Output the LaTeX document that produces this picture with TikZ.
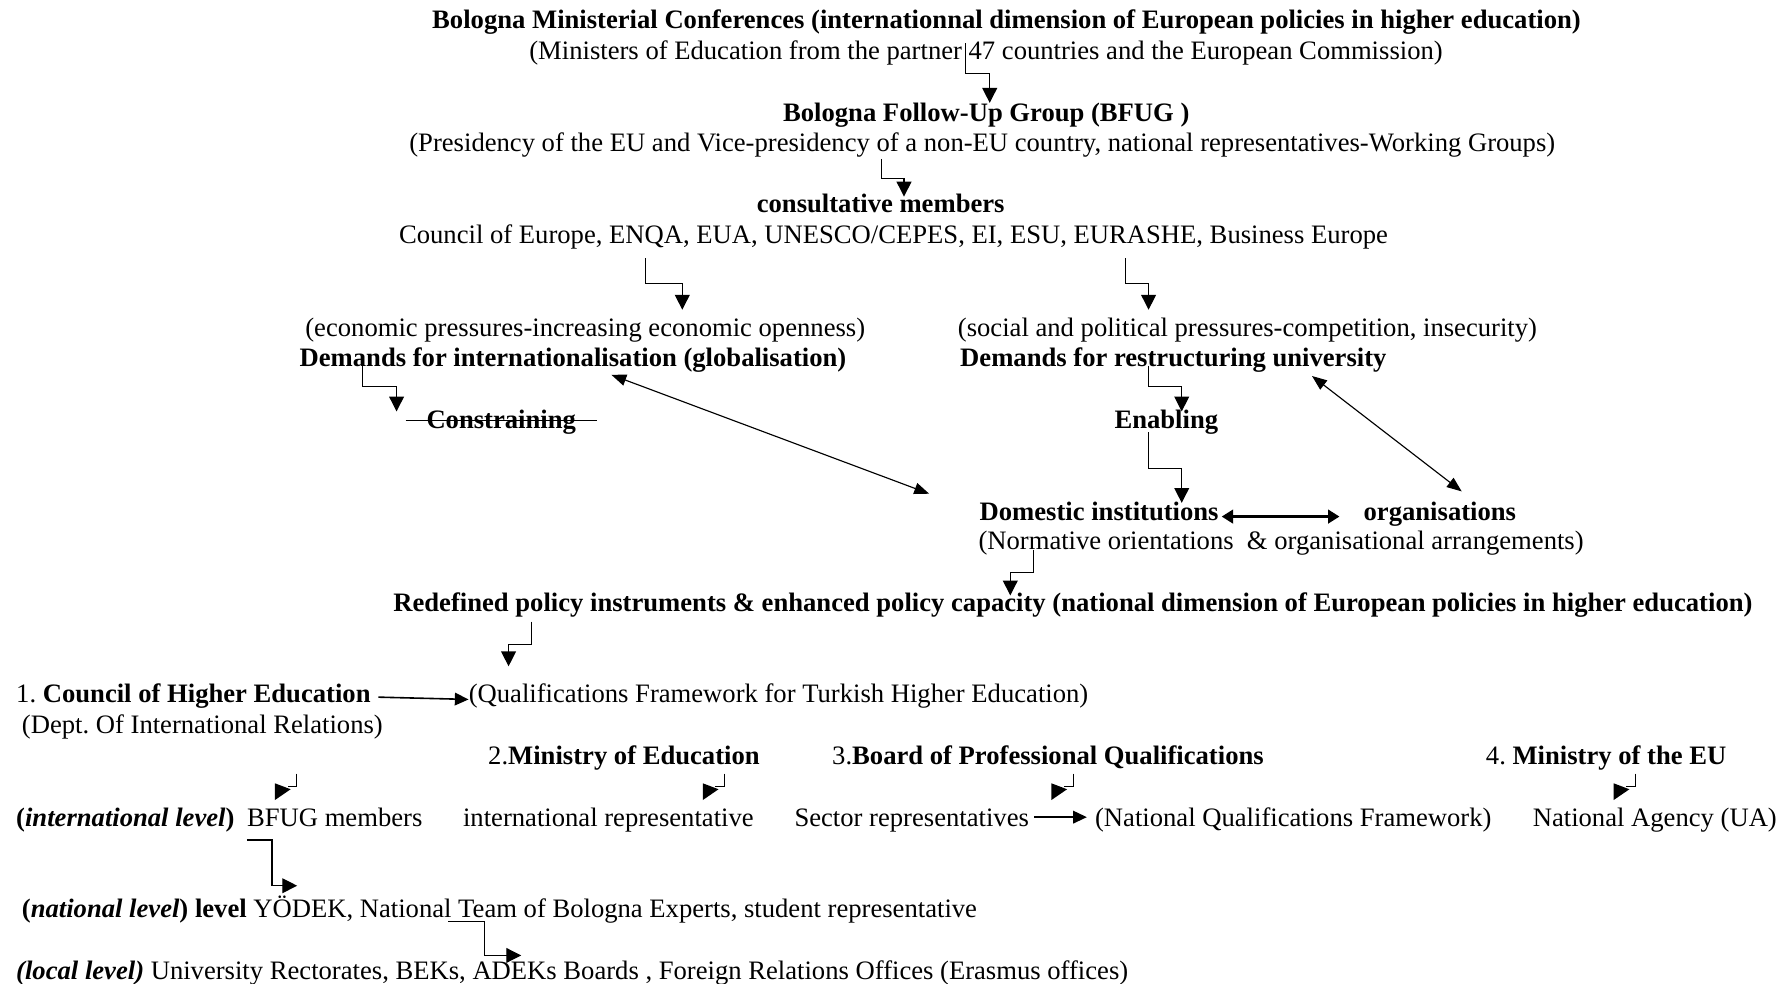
\documentclass[tikz,border=0pt]{standalone}
\usepackage{fontspec}
\setmainfont{Liberation Serif}
\usetikzlibrary{arrows.meta}
\frenchspacing
\begin{document}
\begin{tikzpicture}[x=1pt,y=-1pt,
  txt/.style={anchor=base west, inner sep=0pt, font=\fontsize{23.3}{28}\selectfont},
  bt/.style={txt, font=\fontsize{23.3}{28}\selectfont\bfseries},
  bentarrow/.style={line width=1pt, -{Triangle[length=13pt,width=13pt]}},
  straightarrow/.style={line width=1.4pt, -{Triangle[length=12pt,width=11pt]}},
  dblarrow/.style={line width=1pt, {Triangle[length=13pt,width=10pt]}-{Triangle[length=13pt,width=10pt]}},
  thickdbl/.style={line width=2pt, {Triangle[length=10pt,width=12pt]}-{Triangle[length=10pt,width=12pt]}},
  smallline/.style={line width=1pt},
]
\useasboundingbox (0,0) rectangle (1568,861);

% ---------- texts ----------
\node[bt]  (t1)  at (378,25)  {Bologna Ministerial Conferences (internationnal dimension of European policies in higher education)};
\node[txt] (t2)  at (463,52)  {(Ministers of Education from the partner 47 countries and the European Commission)};
\node[bt]  (t3)  at (685,106) {Bologna Follow-Up Group (BFUG )};
\node[txt] (t4)  at (358,133) {(Presidency of the EU and Vice-presidency of a non-EU country, national representatives-Working Groups)};
\node[bt]  (t5)  at (662,186) {consultative members};
\node[txt] (t6)  at (349,213) {Council of Europe, ENQA, EUA, UNESCO/CEPES, EI, ESU, EURASHE, Business Europe};
\node[txt] (t7)  at (267,294) {(economic pressures-increasing economic openness)};
\node[bt]  (t8)  at (262,321) {Demands for internationalisation (globalisation)};
\node[txt] (t9)  at (838,294) {(social and political pressures-competition, insecurity)};
\node[bt]  (t10) at (840,321) {Demands for restructuring university};
\node[bt]  (t11) at (373,375) {Constraining};
\node[bt]  (t12) at (975,375) {Enabling};
\node[bt]  (t13) at (857,455) {Domestic institutions};
\node[bt]  (t14) at (1193,455) {organisations};
\node[txt] (t15) at (856,481) {(Normative orientations~ \& organisational arrangements)};
\node[bt]  (t16) at (344,535) {Redefined policy instruments \& enhanced policy capacity (national dimension of European policies in higher education)};
\node[txt] (t17) at (14,615)  {1. \textbf{Council of Higher Education}};
\node[txt] (t18) at (410,615) {(Qualifications Framework for Turkish Higher Education)};
\node[txt] (t19) at (19,642)  {(Dept. Of International Relations)};
\node[txt] (t20) at (427,669) {2.\textbf{Ministry of Education}};
\node[txt] (t21) at (728,669) {3.\textbf{Board of Professional Qualifications}};
\node[txt] (t22) at (1300,669) {4. \textbf{Ministry of the EU}};
\node[txt] (t23) at (14,723)  {\textbf{(\textit{international level})}};
\node[txt] (t23b) at (216,723) {BFUG members};
\node[txt] (t24) at (405,723) {international representative};
\node[txt] (t25) at (695,723) {Sector representatives};
\node[txt] (t26) at (958,723) {(National Qualifications Framework)};
\node[txt] (t27) at (1341,723) {National Agency (UA)};
\node[txt] (t28) at (19,803)  {\textbf{(\textit{national level}) level} YÖDEK, National Team of Bologna Experts, student representative};
\node[txt] (t29) at (14,857)  {\textbf{\textit{(local level)}} University Rectorates, BEKs, ADEKs Boards , Foreign Relations Offices (Erasmus offices)};

% strike-through of "Constraining"
\coordinate (s1) at (355,368);
\coordinate (s2) at (522,368);
\draw[line width=1pt] (s1) -- (s2);

% ---------- bent arrows (down, right/left, down) ----------
\coordinate (a1s) at (845,38);   \coordinate (a1e) at (866,90);
\draw[bentarrow] (a1s) -- (845,64) -| (a1e);
\coordinate (a2s) at (771,139);  \coordinate (a2e) at (791,172);
\draw[bentarrow] (a2s) -- (771,156) -| (a2e);
\coordinate (a3s) at (565,226);  \coordinate (a3e) at (597,271);
\draw[bentarrow] (a3s) -- (565,248) -| (a3e);
\coordinate (a4s) at (985,226);  \coordinate (a4e) at (1005,271);
\draw[bentarrow] (a4s) -- (985,248) -| (a4e);
\coordinate (a5s) at (317,320);  \coordinate (a5e) at (347,360);
\draw[bentarrow] (a5s) -- (317,338) -| (a5e);
\coordinate (a6s) at (1005,320); \coordinate (a6e) at (1034,360);
\draw[bentarrow] (a6s) -- (1005,338) -| (a6e);
\coordinate (a7s) at (1005,378); \coordinate (a7e) at (1034,440);
\draw[bentarrow] (a7s) -- (1005,410) -| (a7e);
\coordinate (a11s) at (904,481); \coordinate (a11e) at (884,521);
\draw[bentarrow] (a11s) -- (904,501) -| (a11e);
\coordinate (a12s) at (465,544); \coordinate (a12e) at (445,583);
\draw[bentarrow] (a12s) -- (465,564) -| (a12e);

% ---------- double arrows ----------
\coordinate (d1a) at (535,328);  \coordinate (d1b) at (813,432);
\draw[dblarrow] (d1a) -- (d1b);
\coordinate (d2a) at (1148,329); \coordinate (d2b) at (1279,430);
\draw[dblarrow] (d2a) -- (d2b);
\coordinate (d3a) at (1069,452); \coordinate (d3b) at (1172,452);
\draw[thickdbl] (d3a) -- (d3b);

% ---------- straight arrows ----------
\coordinate (h1a) at (331,610); \coordinate (h1b) at (410,612);
\draw[straightarrow] (h1a) -- (h1b);
\coordinate (h2a) at (905,715); \coordinate (h2b) at (951,715);
\draw[straightarrow] (h2a) -- (h2b);

% ---------- small bent arrows ----------
\foreach \xv/\nm in {259.6/sa, 634/sb, 939/sc, 1431/sd}{
  \coordinate (\nm top) at (\xv,677);
  \draw[smallline] (\nm top) -- (\xv,688) -- (\xv-8,688);
  \fill (\xv-19,685.4) -- (\xv-5.3,690.6) -- (\xv-19,700) -- cycle;
}

% ---------- right-pointing bent arrows ----------
\coordinate (r1s) at (216,735); \coordinate (r1e) at (260,775);
\draw[bentarrow] (r1s) -- (238,735) |- (r1e);
\coordinate (r2s) at (392,806); \coordinate (r2e) at (456,836);
\draw[bentarrow] (r2s) -- (424,806) |- (r2e);
\end{tikzpicture}
\end{document}
